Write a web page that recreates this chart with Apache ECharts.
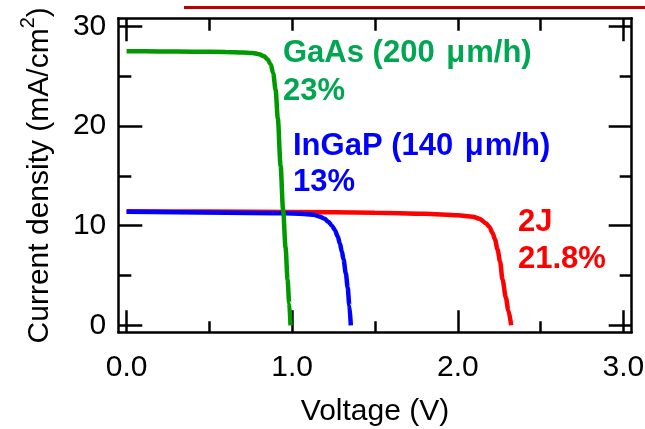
<!DOCTYPE html>
<html>
<head>
<meta charset="utf-8">
<script src="https://cdn.jsdelivr.net/npm/echarts@6/dist/echarts.min.js"></script>
<style>
  html, body { margin: 0; padding: 0; background: #ffffff; }
  #chart { width: 645px; height: 429px; }
</style>
</head>
<body>
<div id="chart"></div>
<script>
// ---- Data ----
const xMajorTicks = [0, 1, 2, 3];
const xMinorTicks = [0.5, 1.5, 2.5];
const xTopLongTicks = [0, 3];
const xTopShortTicks = [0.5, 1, 1.5, 2, 2.5];
const yMajorTicks = [0, 10, 20, 30];
const yMinorTicks = [5, 15, 25];

const gaasVoltage = [0, 0.2, 0.4, 0.6, 0.7, 0.76, 0.8, 0.83, 0.85, 0.87, 0.885, 0.9, 0.913, 0.93, 0.945, 0.96, 0.972, 0.982, 0.99];
const gaasCurrent = [27.5, 27.48, 27.45, 27.42, 27.38, 27.33, 27.2, 27.0, 26.7, 26.2, 25.3, 23.6, 20.8, 16.0, 11.6, 7.8, 4.6, 2.2, 0];

const ingapVoltage = [0, 0.3, 0.6, 0.9, 1.0, 1.087, 1.13, 1.167, 1.195, 1.218, 1.24, 1.258, 1.275, 1.288, 1.3, 1.31, 1.324, 1.335, 1.345, 1.354];
const ingapCurrent = [11.4, 11.35, 11.3, 11.25, 11.22, 11.15, 11.08, 10.9, 10.7, 10.4, 10.0, 9.55, 8.9, 8.2, 7.4, 6.6, 5.2, 3.8, 2.0, 0];

const tandemVoltage = [0, 0.5, 1.0, 1.5, 1.8, 2.0, 2.09, 2.13, 2.17, 2.19, 2.21, 2.225, 2.24, 2.255, 2.27, 2.29, 2.305, 2.322];
const tandemCurrent = [11.45, 11.42, 11.38, 11.3, 11.2, 11.05, 10.9, 10.7, 10.25, 9.9, 9.25, 8.6, 7.6, 6.4, 4.6, 2.8, 1.5, 0];

const xTitle = 'Voltage (V)';
const annotations = [
  { text: '{b|GaAs (200 }{m|μ}{b|m/h)}', color: '#00a651', left: 283, y: 53 },
  { text: '{b|23%}', color: '#00a651', left: 283, y: 91 },
  { text: '{b|InGaP (140 }{m|μ}{b|m/h)}', color: '#0000ff', left: 293, y: 146 },
  { text: '{b|13%}', color: '#0000ff', left: 293, y: 182.5 },
  { text: '{b|2J}', color: '#ff0000', left: 518, y: 222 },
  { text: '{b|21.8%}', color: '#ff0000', left: 518, y: 259 }
];

// ---- Build ----
const FONT = '"Liberation Sans", Arial, sans-serif';
const zip = (xs, ys) => xs.map((x, i) => [x, ys[i]]);
const lineW = 2.5;

function xAxisDef(position, ticks, len, showLine, labels) {
  return {
    type: 'value', position: position, min: -0.05, max: 3.05,
    axisLine: { show: showLine, onZero: false, lineStyle: { color: '#000', width: lineW } },
    axisTick: { show: true, inside: true, length: len, customValues: ticks, lineStyle: { color: '#000', width: lineW } },
    axisLabel: labels ? {
      show: true, customValues: xMajorTicks, margin: 20, color: '#000', fontSize: 30, fontFamily: FONT,
      formatter: v => Number(v).toFixed(1)
    } : { show: false },
    splitLine: { show: false }
  };
}
function yAxisDef(position, ticks, len, showLine, labels) {
  return {
    type: 'value', position: position, min: -0.7, max: 30.8,
    axisLine: { show: showLine, onZero: false, lineStyle: { color: '#000', width: lineW } },
    axisTick: { show: true, inside: true, length: len, customValues: ticks, lineStyle: { color: '#000', width: lineW } },
    axisLabel: labels ? {
      show: true, customValues: yMajorTicks, margin: 12, color: '#000', fontSize: 30, fontFamily: FONT
    } : { show: false },
    splitLine: { show: false }
  };
}

const xAxes = [
  xAxisDef('bottom', xMajorTicks, 22, true, true),
  xAxisDef('bottom', xMinorTicks, 11, false, false),
  xAxisDef('top', xTopLongTicks, 23, true, false),
  xAxisDef('top', xTopShortTicks, 12.5, false, false)
];
xAxes[0].name = xTitle;
xAxes[0].nameLocation = 'middle';
xAxes[0].nameGap = 64;
xAxes[0].nameTextStyle = { color: '#000', fontSize: 30, fontFamily: FONT };

const yAxes = [
  yAxisDef('left', yMajorTicks, 24, true, true),
  yAxisDef('left', yMinorTicks, 13, false, false),
  yAxisDef('right', yMajorTicks, 23, true, false),
  yAxisDef('right', yMinorTicks, 12, false, false)
];
yAxes[0].name = '{t|Current density (mA/cm}{s|2}{t|)}';
yAxes[0].nameLocation = 'middle';
yAxes[0].nameRotate = 90;
yAxes[0].nameGap = 64;
yAxes[0].nameTextStyle = {
  rich: {
    t: { color: '#000', fontSize: 30, fontFamily: FONT, lineHeight: 36, verticalAlign: 'bottom' },
    s: { color: '#000', fontSize: 20, fontFamily: FONT, lineHeight: 36, verticalAlign: 'top' }
  }
};

const chart = echarts.init(document.getElementById('chart'), null, { renderer: 'canvas' });
chart.setOption({
  animation: false,
  backgroundColor: '#ffffff',
  grid: { left: 118.3, right: 13.3, top: 18.3, bottom: 96.7, containLabel: false, outerBoundsMode: 'none' },
  xAxis: xAxes,
  yAxis: yAxes,
  series: [
    { name: '2J', type: 'line', data: zip(tandemVoltage, tandemCurrent), xAxisIndex: 0, yAxisIndex: 0,
      showSymbol: false, smooth: 0.3, smoothMonotone: 'x', lineStyle: { color: '#ff0000', width: 4.5 }, z: 2 },
    { name: 'InGaP', type: 'line', data: zip(ingapVoltage, ingapCurrent), xAxisIndex: 0, yAxisIndex: 0,
      showSymbol: false, smooth: 0.3, smoothMonotone: 'x', lineStyle: { color: '#0000ff', width: 4.5 }, z: 3 },
    { name: 'GaAs', type: 'line', data: zip(gaasVoltage, gaasCurrent), xAxisIndex: 0, yAxisIndex: 0,
      showSymbol: false, smooth: 0.3, smoothMonotone: 'x', lineStyle: { color: '#009900', width: 4.5 }, z: 4 }
  ],
  graphic: [
    { type: 'rect', left: 184, top: 6, shape: { width: 461, height: 3 }, style: { fill: '#c00000' }, silent: true }
  ].concat(annotations.map(a => ({
    type: 'text', x: a.left, y: a.y, silent: true,
    style: {
      text: a.text, verticalAlign: 'middle', align: 'left',
      rich: {
        b: { fill: a.color, fontSize: 31, fontWeight: 'bold', fontFamily: FONT },
        m: { fill: a.color, fontSize: 31, fontWeight: 'bold', fontFamily: FONT, padding: [0, 1, 0, 3] }
      }
    }
  })))
});
</script>
</body>
</html>
